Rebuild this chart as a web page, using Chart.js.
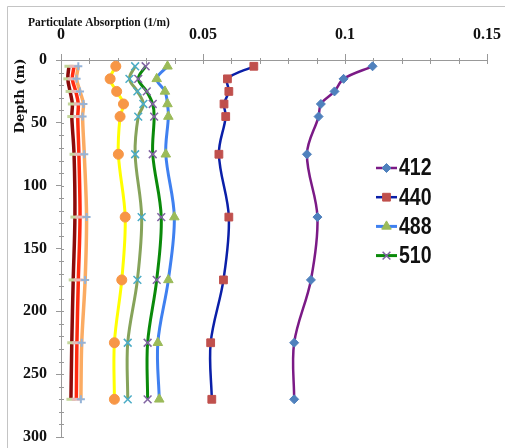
<!DOCTYPE html>
<html lang="en">
<head>
<meta charset="UTF-8">
<title>Particulate Absorption Profile</title>
<style>
    html, body { margin: 0; padding: 0; background: #fff; }
    #wrap { width: 505px; height: 448px; }
</style>
<script src="https://cdn.jsdelivr.net/npm/chart.js"></script>
</head>
<body>
<div id="wrap"><canvas id="absChart" width="505" height="448"></canvas></div>
<script>
// Sampling depths (m) shared by every wavelength profile
const depths = [5, 15, 25, 35, 45, 75, 125, 175, 225, 270];

// Particulate absorption (1/m) per wavelength
const abs412 = [0.1097, 0.0995, 0.0963, 0.0915, 0.0907, 0.0866, 0.0903, 0.0880, 0.0821, 0.0821];
const abs440 = [0.0679, 0.0586, 0.0591, 0.0574, 0.0580, 0.0556, 0.0591, 0.0572, 0.0527, 0.0531];
const abs488 = [0.0375, 0.0337, 0.0366, 0.0375, 0.0378, 0.0369, 0.0399, 0.0378, 0.0341, 0.0346];
const abs510 = [0.0298, 0.0272, 0.0302, 0.0323, 0.0328, 0.0323, 0.0353, 0.0337, 0.0305, 0.0305];
const abs532 = [0.0261, 0.0241, 0.0269, 0.0290, 0.0272, 0.0261, 0.0284, 0.0269, 0.0235, 0.0235];
const abs555 = [0.0193, 0.0173, 0.0196, 0.0220, 0.0208, 0.0202, 0.0226, 0.0214, 0.0188, 0.0188];
const abs650 = [0.0061, 0.0055, 0.0067, 0.0079, 0.0076, 0.0082, 0.0090, 0.0085, 0.0073, 0.0070];
const abs676 = [0.0046, 0.0040, 0.0052, 0.0061, 0.0059, 0.0063, 0.0067, 0.0061, 0.0056, 0.0054];
const abs715 = [0.0028, 0.0024, 0.0032, 0.0040, 0.0038, 0.0046, 0.0049, 0.0043, 0.0038, 0.0035];

// Axis ticks
const xTicks = [0, 0.05, 0.1, 0.15];
const yTicks = [0, 50, 100, 150, 200, 250, 300];

// Only these wavelengths go in the legend
const legendNames = ['412', '440', '488', '510'];

function profile(label, values, line, width, style, radius, fill, edge, edgeWidth) {
    return {
        label: label,
        data: values.map((v, i) => ({ x: v, y: depths[i] })),
        showLine: true,
        borderColor: line,
        borderWidth: width,
        tension: 0.35,
        pointStyle: style,
        pointRadius: radius,
        pointBackgroundColor: fill,
        pointBorderColor: edge,
        pointBorderWidth: edgeWidth
    };
}

const datasets = [
    profile('412', abs412, '#7b1a86', 2.5, 'rectRot', 4.5, '#4f81bd', '#4f81bd', 1),
    profile('440', abs440, '#0a1fa8', 2.5, 'rect', 5.5, '#c0504d', '#c0504d', 1),
    profile('488', abs488, '#3f80f0', 3, 'triangle', 5.5, '#9bbb59', '#9bbb59', 1),
    profile('510', abs510, '#0a8a0a', 3, 'crossRot', 5.5, '#8064a2', '#8064a2', 1.5),
    profile('532', abs532, '#86a35a', 3, 'crossRot', 5.5, '#4bacc6', '#4bacc6', 1.5),
    profile('555', abs555, '#ffff00', 3, 'circle', 5, '#f79646', '#f79646', 1),
    profile('650', abs650, '#fbab62', 3.5, 'cross', 4, '#95b3d7', '#95b3d7', 2),
    profile('676', abs676, '#ff2a10', 3.5, 'line', 4.5, '#e6b9b8', '#e6b9b8', 3),
    profile('715', abs715, '#8b0a0a', 3.5, 'line', 4.5, '#c3d69b', '#c3d69b', 3)
];

const serifBold = (size) => ({ family: '"Liberation Serif", "Times New Roman", serif', size: size, weight: 'bold' });

// Frame, minor ticks, axis titles and the right-hand legend
const decorations = {
    id: 'decorations',
    beforeDraw(chart) {
        const ctx = chart.ctx;
        ctx.save();
        ctx.fillStyle = '#fff';
        ctx.fillRect(0, 0, chart.width, chart.height);
        ctx.strokeStyle = '#c4c4c4';
        ctx.lineWidth = 1;
        ctx.beginPath();
        ctx.moveTo(7.5, chart.height);
        ctx.lineTo(7.5, 6.5);
        ctx.lineTo(chart.width, 6.5);
        ctx.stroke();
        ctx.restore();
    },
    beforeDatasetsDraw(chart) {
        const ctx = chart.ctx;
        const xs = chart.scales.x, ys = chart.scales.y;
        const area = chart.chartArea;
        ctx.save();
        ctx.strokeStyle = '#999';
        ctx.lineWidth = 1;
        ctx.beginPath();
        for (let k = 0; k <= 15; k++) {
            const px = Math.round(xs.getPixelForValue(k / 100)) + 0.5;
            ctx.moveTo(px, area.top - (k % 5 === 0 ? 0 : 2));
            ctx.lineTo(px, area.top + 4);
        }
        for (let d = 0; d <= 300; d += 10) {
            const py = Math.round(ys.getPixelForValue(d)) + 0.5;
            ctx.moveTo(area.left - (d % 50 === 0 ? 0 : 2), py);
            ctx.lineTo(area.left + 3, py);
        }
        ctx.stroke();
        ctx.restore();
    },
    afterDraw(chart) {
        const ctx = chart.ctx;
        ctx.save();
        ctx.fillStyle = '#111';

        // axis titles
        ctx.font = 'bold 11.5px "Liberation Serif", serif';
        ctx.textAlign = 'left';
        ctx.textBaseline = 'alphabetic';
        ctx.fillText('Particulate Absorption (1/m)', 28, 25.5);

        ctx.save();
        ctx.translate(21, 96);
        ctx.rotate(-Math.PI / 2);
        ctx.font = 'bold 13px "DejaVu Serif", serif';
        ctx.textAlign = 'center';
        ctx.textBaseline = 'middle';
        ctx.fillText('Depth (m)', 0, 0);
        ctx.restore();

        // legend
        const drawPoint = Chart.helpers && Chart.helpers.drawPoint;
        legendNames.forEach((name, i) => {
            const ds = chart.data.datasets.find(d => d.label === name);
            const y = 168 + i * 29.2;
            ctx.strokeStyle = ds.borderColor;
            ctx.lineWidth = ds.borderWidth;
            ctx.beginPath();
            ctx.moveTo(376, y);
            ctx.lineTo(397, y);
            ctx.stroke();
            if (drawPoint) {
                ctx.fillStyle = ds.pointBackgroundColor;
                ctx.strokeStyle = ds.pointBorderColor;
                ctx.lineWidth = ds.pointBorderWidth;
                drawPoint(ctx, {
                    pointStyle: ds.pointStyle,
                    radius: ds.pointRadius,
                    rotation: 0,
                    borderWidth: ds.pointBorderWidth
                }, 386.5, y);
            }
            ctx.save();
            ctx.fillStyle = '#111';
            ctx.font = 'bold 23px "Liberation Sans", Arial, sans-serif';
            ctx.textAlign = 'left';
            ctx.textBaseline = 'middle';
            ctx.translate(399, y + 1);
            ctx.scale(0.85, 1);
            ctx.fillText(name, 0, 0);
            ctx.restore();
        });
        ctx.restore();
    }
};

new Chart(document.getElementById('absChart'), {
    type: 'scatter',
    data: { datasets: datasets },
    options: {
        responsive: false,
        animation: false,
        layout: { padding: { top: 0, left: 0, right: 18, bottom: 11 } },
        plugins: {
            legend: { display: false },
            tooltip: { enabled: false }
        },
        scales: {
            x: {
                type: 'linear',
                position: 'top',
                min: xTicks[0],
                max: xTicks[xTicks.length - 1],
                afterBuildTicks: s => { s.ticks = xTicks.map(v => ({ value: v })); },
                ticks: {
                    color: '#111',
                    padding: 10,
                    font: serifBold(16),
                    callback: v => String(+v.toFixed(2))
                },
                grid: { drawOnChartArea: false, tickLength: 6, color: '#999' },
                border: { color: '#999' },
                afterFit: s => { s.height = 60; s.paddingLeft = 0; s.paddingRight = 0; }
            },
            y: {
                type: 'linear',
                reverse: true,
                min: yTicks[0],
                max: yTicks[yTicks.length - 1],
                afterBuildTicks: s => { s.ticks = yTicks.map(v => ({ value: v })); },
                ticks: {
                    color: '#111',
                    padding: 9,
                    font: serifBold(16)
                },
                grid: { drawOnChartArea: false, tickLength: 5, color: '#999' },
                border: { color: '#999' },
                afterFit: s => { s.width = 61; s.paddingTop = 0; s.paddingBottom = 0; }
            }
        }
    },
    plugins: [decorations]
});
</script>
</body>
</html>
